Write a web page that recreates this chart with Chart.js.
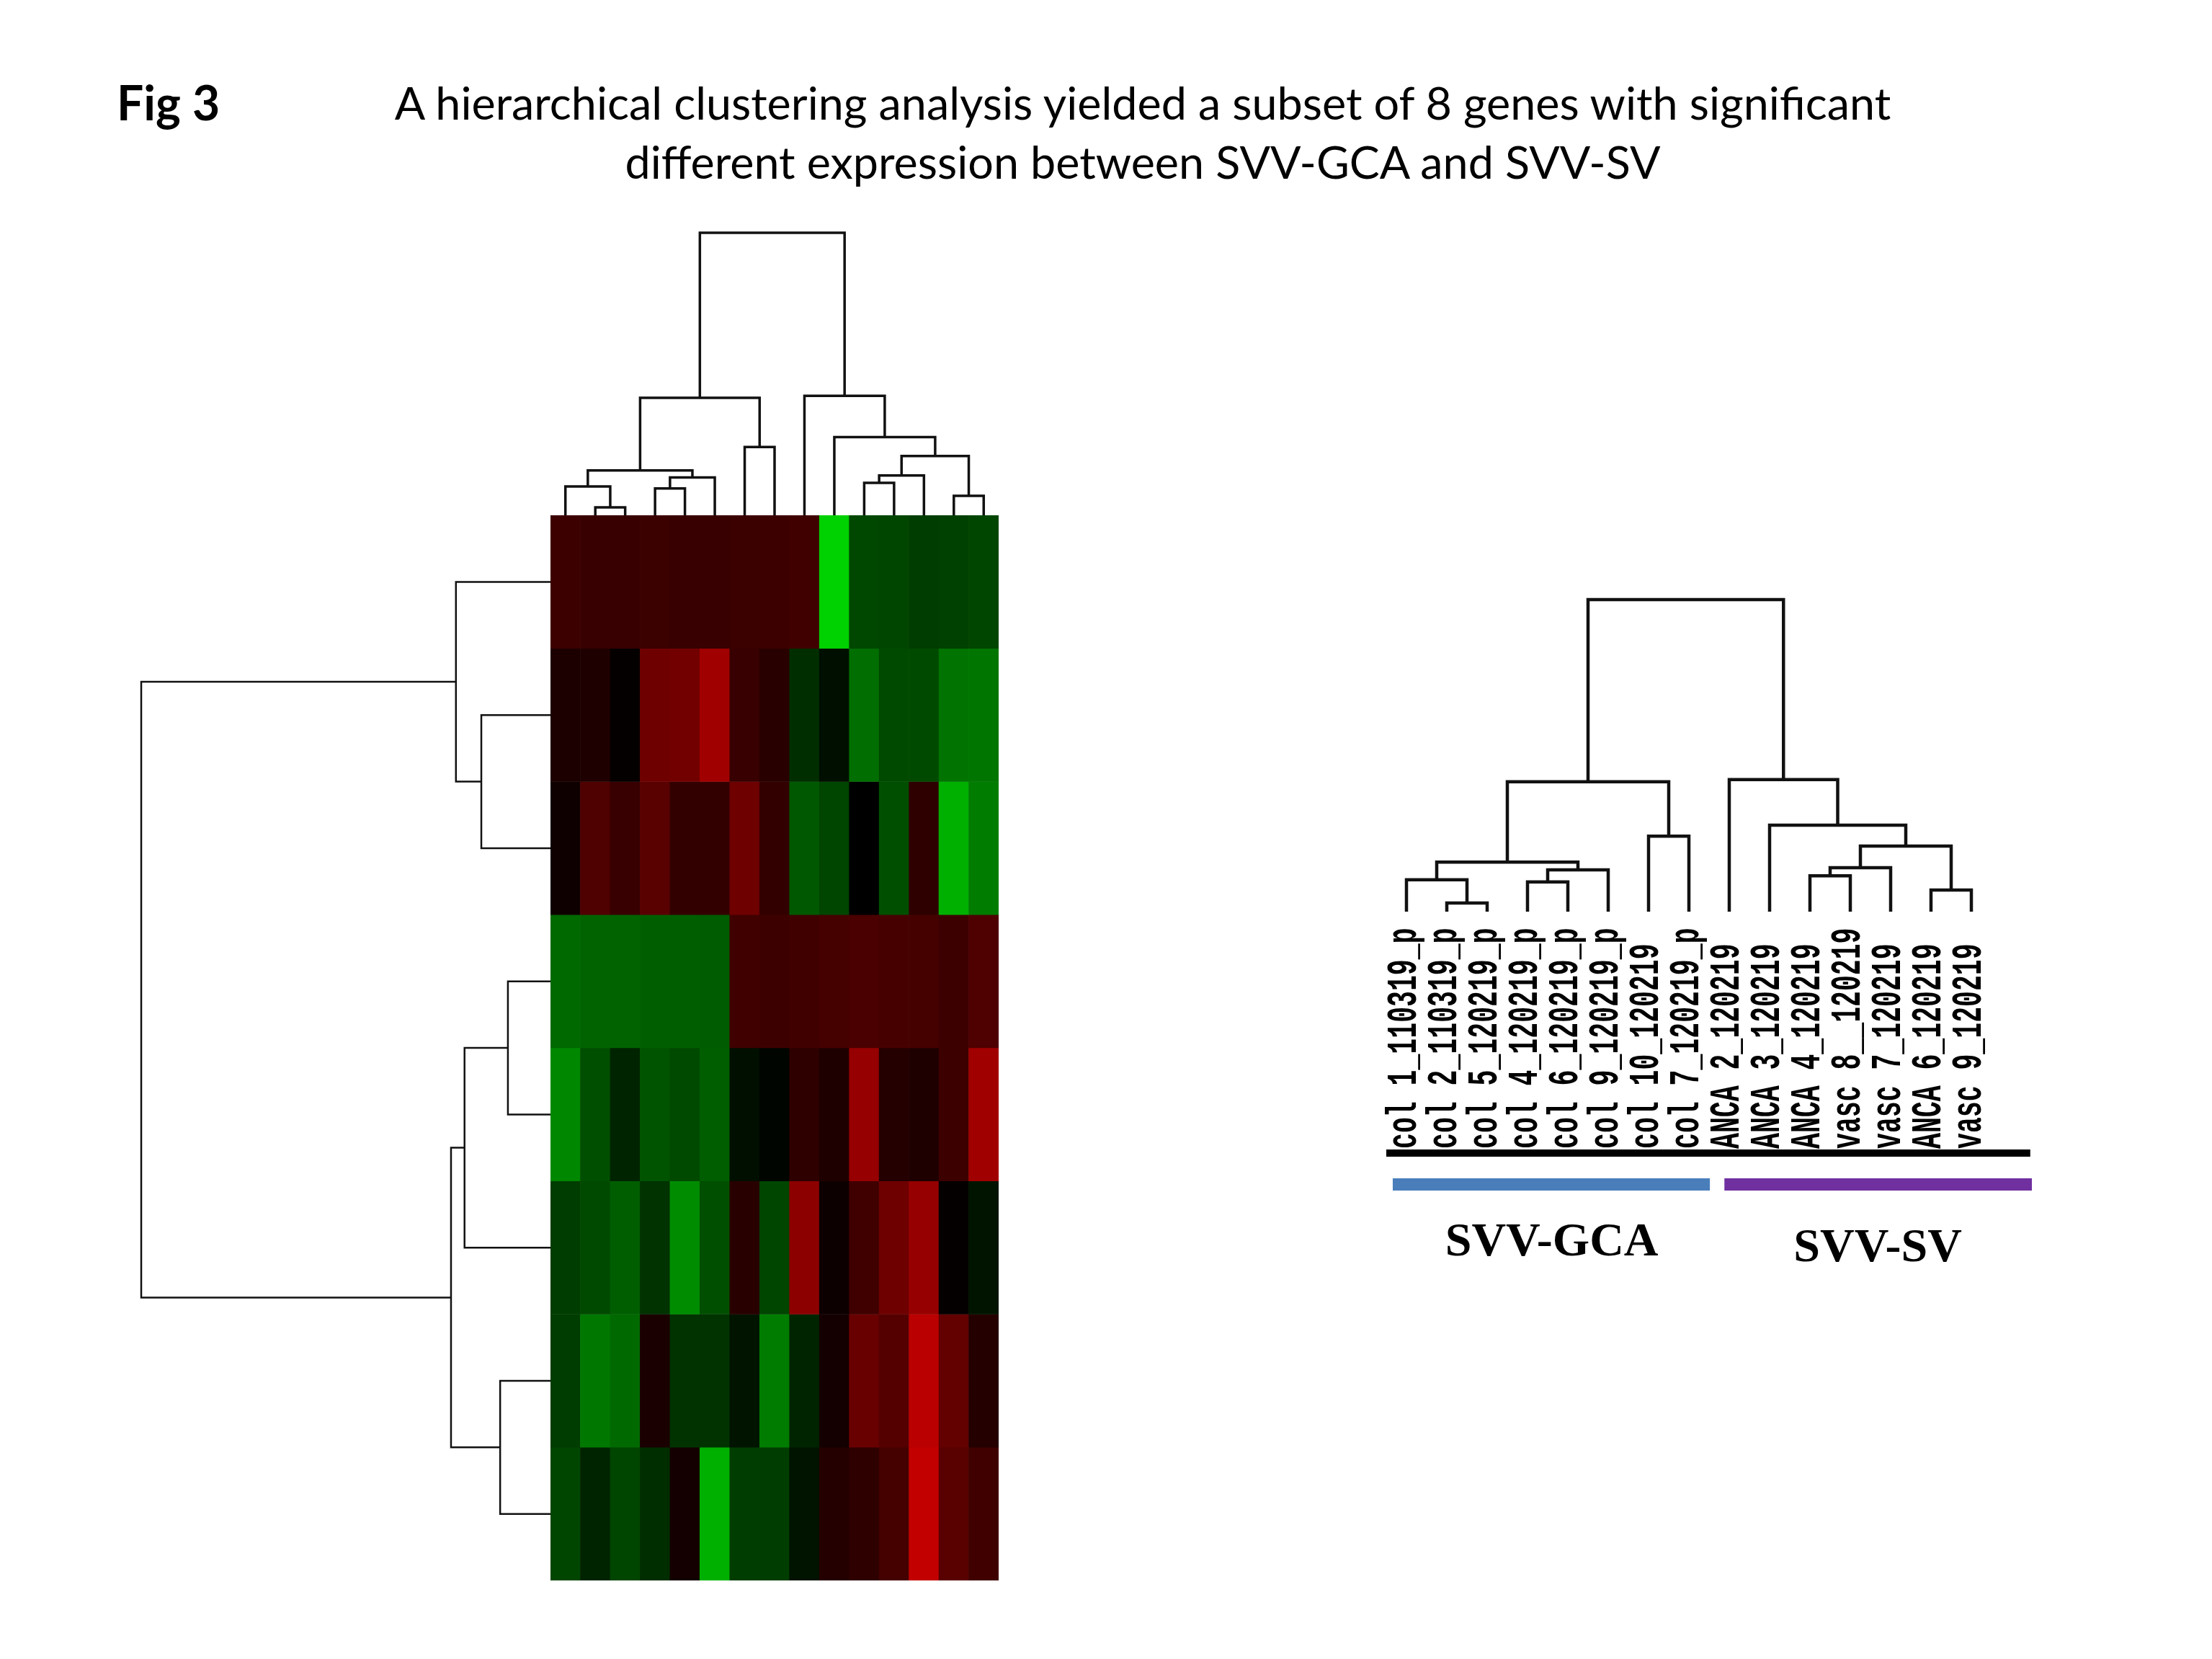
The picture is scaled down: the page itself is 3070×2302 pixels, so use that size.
<!DOCTYPE html>
<html>
<head>
<meta charset="utf-8">
<script src="https://cdn.jsdelivr.net/npm/chart.js@4.4.0/dist/chart.umd.min.js"></script>
<style>
  html, body { margin: 0; padding: 0; background: #fff; }
  body { width: 3070px; height: 2302px; position: relative; overflow: hidden; }
  canvas { position: absolute; }
  .txt { position: absolute; white-space: nowrap; color: #000; font-family: Lato, "Open Sans", sans-serif; }
  #fig { left: 162px; top: 101px; font-weight: bold; line-height: 82px; }
  #title { left: 0; width: 3172px; top: 101px; text-align: center; line-height: 82px; }
</style>
</head>
<body>
<div class="txt" id="fig">Fig 3</div>
<div class="txt" id="title">A hierarchical clustering analysis yielded a subset of 8 genes with significant<br>different expression between SVV-GCA and SVV-SV</div>

<canvas id="colTree" width="622" height="415" style="left:764px;top:300px"></canvas>
<canvas id="rowTree" width="584" height="1478" style="left:180px;top:715px"></canvas>
<canvas id="heat" width="622" height="1478" style="left:764px;top:715px"></canvas>
<canvas id="sideTree" width="952" height="1000" style="left:1896px;top:800px"></canvas>

<script>
// samples (heatmap columns, in dendrogram order)
var samples = ["col 1_110319_p", "col 2_110319_p", "col 5_120219_p", "col 4_120219_p",
               "col 6_120219_p", "col 9_120219_p", "col 10_120219", "col 7_120219_p",
               "ANCA 2_120219", "ANCA 3_120219", "ANCA 4_120219", "vasc 8__120219",
               "vasc 7_120219", "ANCA 6_120219", "vasc 9_120219"];

// expression per gene row (red = up, green = down)
var gene1 = [0.24, 0.22, 0.22, 0.23, 0.22, 0.22, 0.23, 0.24, 0.25, -0.82, -0.28, -0.27, -0.24, -0.25, -0.27];
var gene2 = [0.11, 0.12, 0.02, 0.43, 0.45, 0.63, 0.22, 0.16, -0.18, -0.06, -0.43, -0.29, -0.29, -0.45, -0.46];
var gene3 = [0.06, 0.31, 0.22, 0.35, 0.20, 0.20, 0.43, 0.20, -0.35, -0.27, 0.00, -0.31, 0.18, -0.69, -0.49];
var gene4 = [-0.41, -0.39, -0.39, -0.37, -0.37, -0.36, 0.25, 0.24, 0.25, 0.27, 0.29, 0.28, 0.27, 0.24, 0.31];
var gene5 = [-0.53, -0.31, -0.14, -0.33, -0.29, -0.37, -0.06, -0.02, 0.18, 0.12, 0.59, 0.14, 0.12, 0.24, 0.63];
var gene6 = [-0.24, -0.29, -0.37, -0.20, -0.55, -0.31, 0.16, -0.27, 0.55, 0.05, 0.25, 0.43, 0.59, 0.02, -0.08];
var gene7 = [-0.24, -0.47, -0.41, 0.10, -0.20, -0.20, -0.08, -0.49, -0.14, 0.08, 0.41, 0.33, 0.73, 0.39, 0.14];
var gene8 = [-0.27, -0.14, -0.27, -0.18, 0.08, -0.69, -0.24, -0.24, -0.08, 0.14, 0.18, 0.27, 0.76, 0.35, 0.25];
var geneRows = [gene1, gene2, gene3, gene4, gene5, gene6, gene7, gene8];

// sample clustering: [child a, child b, height]; ids >= 15 are earlier merges
var sampleMerges = [
  [1, 2, 0.028], [0, 15, 0.102], [3, 4, 0.095], [17, 5, 0.134], [16, 18, 0.159],
  [6, 7, 0.242], [19, 20, 0.416], [10, 11, 0.115], [22, 12, 0.141], [13, 14, 0.069],
  [23, 24, 0.21], [9, 25, 0.277], [8, 26, 0.423], [21, 27, 1.0]
];
// gene clustering: ids >= 8 are earlier merges
var geneMerges = [
  [1, 2, 0.169], [0, 8, 0.231], [3, 4, 0.104], [10, 5, 0.21], [6, 7, 0.123],
  [11, 12, 0.243], [9, 13, 1.0]
];

// sample groups shown under the side dendrogram
var groupNames = ["SVV-GCA", "SVV-SV"];
var groupSpans = [[-0.34, 7.52], [7.88, 15.5]];
var groupColors = ["#4a7ebb", "#7030a0"];
var groupLabelAt = [3.6, 11.68];

function cellColor(v) {
  var c = Math.round(Math.min(1, Math.abs(v)) * 255);
  return v >= 0 ? "rgb(" + c + ",0,0)" : "rgb(0," + c + ",0)";
}

function segments(n, merges) {
  var pos = [], hgt = [], segs = [];
  for (var i = 0; i < n; i++) { pos[i] = i; hgt[i] = 0; }
  merges.forEach(function (m, k) {
    var a = m[0], b = m[1], h = m[2];
    segs.push([[pos[a], hgt[a]], [pos[a], h], [pos[b], h], [pos[b], hgt[b]]]);
    pos[n + k] = (pos[a] + pos[b]) / 2;
    hgt[n + k] = h;
  });
  return segs;
}

function treeSets(segs, vertical, width) {
  return segs.map(function (s) {
    return {
      data: s.map(function (p) { return vertical ? {x: p[0], y: p[1]} : {x: p[1], y: p[0]}; }),
      showLine: true, borderColor: "#111", borderWidth: width,
      pointRadius: 0, clip: false, tension: 0
    };
  });
}

var base = {
  responsive: false, animation: false, events: [],
  plugins: {legend: {display: false}, tooltip: {enabled: false}}
};

function opts(extra) { return Object.assign({}, base, extra); }

// heatmap
new Chart(document.getElementById("heat"), {
  type: "bar",
  data: {
    labels: samples,
    datasets: geneRows.map(function (vals, r) {
      return {
        label: "gene " + (r + 1),
        data: vals.map(function () { return 1; }),
        backgroundColor: vals.map(cellColor),
        borderWidth: 0, categoryPercentage: 1, barPercentage: 1, stack: "g"
      };
    })
  },
  options: opts({
    layout: {padding: 0},
    scales: {
      x: {display: false, stacked: true},
      y: {display: false, stacked: true, min: 0, max: geneRows.length, reverse: true}
    }
  })
});

// dendrogram above the heatmap
new Chart(document.getElementById("colTree"), {
  type: "scatter",
  data: {datasets: treeSets(segments(samples.length, sampleMerges), true, 3.5)},
  options: opts({
    layout: {padding: {top: 23, bottom: 0, left: 0, right: 0}},
    scales: {
      x: {display: false, min: -0.5, max: samples.length - 0.5},
      y: {display: false, min: 0, max: 1}
    }
  })
});

// dendrogram left of the heatmap
new Chart(document.getElementById("rowTree"), {
  type: "scatter",
  data: {datasets: treeSets(segments(geneRows.length, geneMerges), false, 2.5)},
  options: opts({
    layout: {padding: {left: 16, right: 0, top: 0, bottom: 0}},
    scales: {
      x: {display: false, min: 0, max: 1, reverse: true},
      y: {display: false, min: -0.5, max: geneRows.length - 0.5, reverse: true}
    }
  })
});

// side dendrogram with sample labels and groups
var sideLabels = {
  id: "sideLabels",
  afterDatasetsDraw: function (chart) {
    var ctx = chart.ctx, xs = chart.scales.x;
    ctx.save();
    ctx.fillStyle = "#000";
    ctx.font = "bold 60px 'Liberation Mono', monospace";
    ctx.textAlign = "left";
    ctx.textBaseline = "middle";
    samples.forEach(function (s, i) {
      ctx.save();
      ctx.translate(xs.getPixelForValue(i) - 2, 794);
      ctx.rotate(-Math.PI / 2);
      ctx.scale(0.608, 1);
      ctx.fillText(s, 0, 0);
      ctx.restore();
    });
    // base line
    ctx.fillRect(xs.getPixelForValue(-0.5), 795, xs.getPixelForValue(15.46) - xs.getPixelForValue(-0.5), 10);
    // group bars and names
    ctx.textAlign = "center";
    ctx.textBaseline = "alphabetic";
    ctx.font = "bold 66px 'Liberation Serif', serif";
    groupNames.forEach(function (g, k) {
      var a = xs.getPixelForValue(groupSpans[k][0]), b = xs.getPixelForValue(groupSpans[k][1]);
      ctx.fillStyle = groupColors[k];
      ctx.fillRect(a, 835, b - a, 17);
      ctx.fillStyle = "#000";
      ctx.fillText(g, xs.getPixelForValue(groupLabelAt[k]), k === 0 ? 942 : 950);
    });
    ctx.restore();
  }
};

new Chart(document.getElementById("sideTree"), {
  type: "scatter",
  data: {datasets: treeSets(segments(samples.length, sampleMerges), true, 4.5)},
  options: opts({
    layout: {padding: {top: 32, bottom: 535, left: 0, right: 0}},
    scales: {
      x: {display: false, min: -1, max: samples.length + 1},
      y: {display: false, min: 0, max: 1}
    }
  }),
  plugins: [sideLabels]
});

// fit title size to the reference line width
(function () {
  var c = document.createElement("canvas").getContext("2d");
  c.font = "100px Lato";
  var w = c.measureText("A hierarchical clustering analysis yielded a subset of 8 genes with significant").width;
  var size = 100 * 2083 / w;
  document.getElementById("title").style.fontSize = size + "px";
  document.getElementById("fig").style.fontSize = (size * 1.05) + "px";
})();
</script>
</body>
</html>
